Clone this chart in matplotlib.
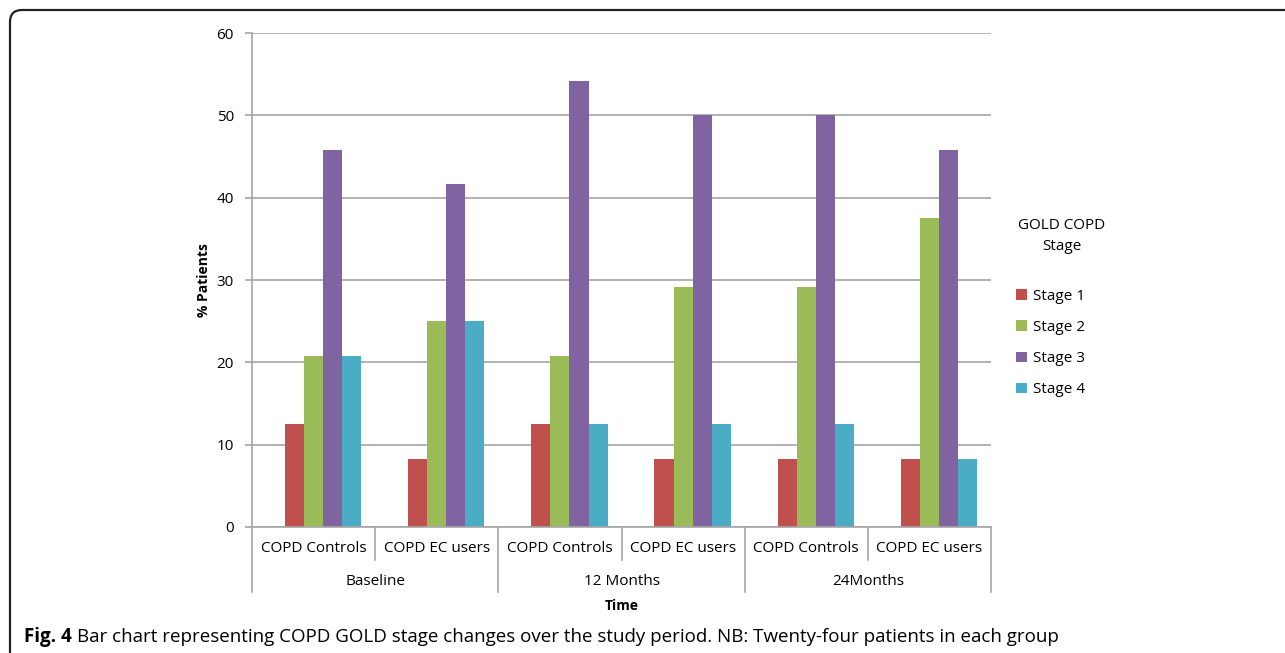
import numpy as np
import matplotlib
matplotlib.use("Agg")
import matplotlib.pyplot as plt
from matplotlib.patches import FancyBboxPatch
from matplotlib.transforms import blended_transform_factory

plt.rcParams['font.family'] = ['Open Sans', 'DejaVu Sans']

# Data: % of patients in each GOLD stage (24 patients per group)
periods = ["Baseline", "12 Months", "24Months"]
groups = ["COPD Controls", "COPD EC users"]
stages = ["Stage 1", "Stage 2", "Stage 3", "Stage 4"]
stage1 = [12.5, 8.3, 12.5, 8.3, 8.3, 8.3]
stage2 = [20.8, 25.0, 20.8, 29.2, 29.2, 37.5]
stage3 = [45.8, 41.7, 54.2, 50.0, 50.0, 45.8]
stage4 = [20.8, 25.0, 12.5, 12.5, 12.5, 8.3]
colors = ["#C0504D", "#9BBB59", "#8064A2", "#4BACC6"]

fig = plt.figure(figsize=(12.85, 6.53), dpi=100)
ax = fig.add_axes([252 / 1285, 1 - 527 / 653, (991 - 252) / 1285, (527 - 33) / 653])

x = np.arange(len(periods) * len(groups))
w = 0.155
# five bar slots per category, the first one left empty
for i, (vals, c, lab) in enumerate(zip([stage1, stage2, stage3, stage4], colors, stages)):
    ax.bar(x + (i - 1) * w, vals, width=w, color=c, label=lab, zorder=3)

ax.set_xlim(-0.5, len(x) - 0.5)
ax.set_ylim(0, 60)
ax.set_yticks(range(0, 61, 10))
ax.yaxis.grid(True, color="#A6A6A6", linewidth=1.2, zorder=0)
for s in ["top", "right", "bottom"]:
    ax.spines[s].set_visible(False)
ax.spines["left"].set_color("#A6A6A6")
ax.spines["left"].set_linewidth(1.2)
ax.tick_params(axis="y", length=5, color="#A6A6A6", width=1.2, labelsize=11, pad=8)
ax.tick_params(axis="x", length=0, labelbottom=False)
ax.set_ylabel("% Patients", fontsize=10, fontweight="bold")
ax.yaxis.set_label_coords(-0.0555, 0.5)

# two-level category axis underneath
tr = blended_transform_factory(ax.transData, ax.transAxes)
ax.plot([-0.5, len(x) - 0.5], [0, 0], transform=tr, color="#A6A6A6", lw=1.2, clip_on=False, zorder=4)
for k in range(len(x) + 1):
    depth = -0.1316 if k % 2 == 0 else -0.0668
    ax.plot([k - 0.5, k - 0.5], [0, depth], transform=tr, color="#A6A6A6", lw=1.2, clip_on=False)
for k in x:
    ax.text(k, -0.044, groups[k % 2], transform=tr, ha="center", va="center", fontsize=11)
for j, p in enumerate(periods):
    ax.text(2 * j + 0.5, -0.11, p, transform=tr, ha="center", va="center", fontsize=11)
ax.text(len(x) / 2 - 0.5, -0.159, "Time", transform=tr, ha="center", va="center",
        fontsize=10, fontweight="bold")

# legend
fig.text(1062 / 1285, 1 - 236 / 653, "GOLD COPD\nStage", ha="center", va="center",
         fontsize=11, linespacing=1.5)
fig.legend(loc="upper left", bbox_to_anchor=(1010 / 1285, 1 - 283 / 653), frameon=False,
           fontsize=11, handlelength=0.7, handleheight=0.7, handletextpad=0.4,
           labelspacing=1.05, borderaxespad=0)

# caption
cap_y = 1 - 637 / 653
t1 = fig.text(24 / 1285, cap_y, "Fig. 4", fontsize=13.5, fontweight="bold", va="center")
renderer = fig.canvas.get_renderer()
bb = t1.get_window_extent(renderer)
fig.text((bb.x1 + 5) / 1285, cap_y,
         "Bar chart representing COPD GOLD stage changes over the study period. "
         "NB: Twenty-four patients in each group",
         fontsize=13.5, va="center")

# frame around the figure panel
frame = FancyBboxPatch((0.1, -0.3), 13.2, 6.73, boxstyle="round,pad=0,rounding_size=0.12",
                       transform=fig.dpi_scale_trans, fill=False, edgecolor="#222222",
                       linewidth=1.6)
fig.patches.append(frame)

fig.savefig("out.png", dpi=100)
